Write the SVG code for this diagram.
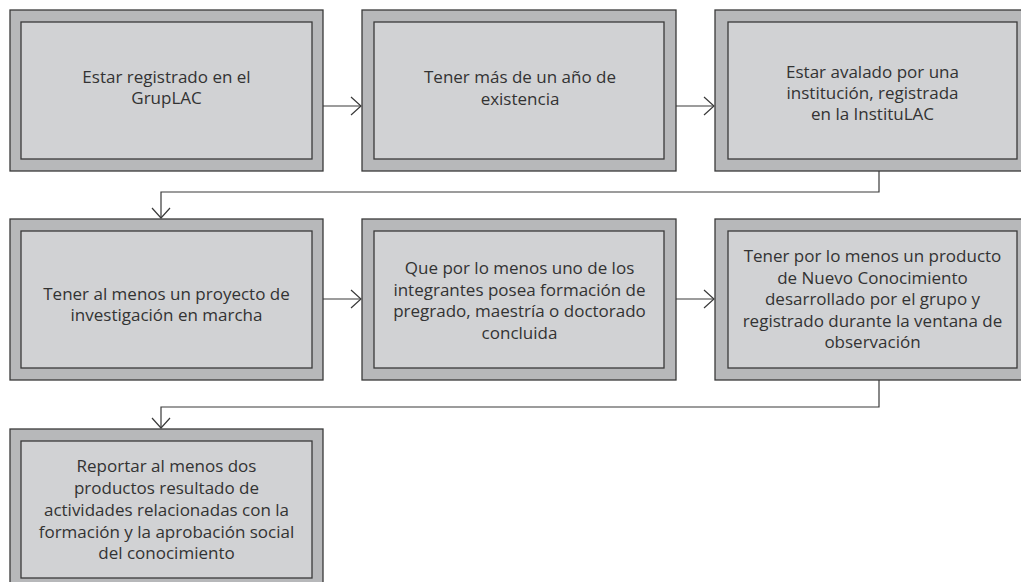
<svg xmlns="http://www.w3.org/2000/svg" width="1021" height="582" viewBox="0 0 1021 582">
<style>
.outer{fill:#b7b8ba;stroke:#3a3a3a;stroke-width:1.3}
.inner{fill:#d1d2d4;stroke:#3a3a3a;stroke-width:1.3}
.t{font-family:"Open Sans","Noto Sans",sans-serif;font-size:17px;fill:#333333;text-anchor:middle}
.c{fill:none;stroke:#3a3a3a;stroke-width:1.2}
</style>
<defs>
<marker id="ah" markerUnits="userSpaceOnUse" markerWidth="14" markerHeight="22" refX="11" refY="10" orient="auto">
<path d="M1,1 L11,10 L1,19" fill="none" stroke="#3a3a3a" stroke-width="1.2"/>
</marker>
</defs>
<rect width="1021" height="582" fill="#ffffff"/>
<g id="connectors">
<path class="c" d="M323,106 H361" marker-end="url(#ah)"/>
<path class="c" d="M676,106 H714" marker-end="url(#ah)"/>
<path class="c" d="M879,171 V192 H161 V218" marker-end="url(#ah)"/>
<path class="c" d="M323,299 H361" marker-end="url(#ah)"/>
<path class="c" d="M676,299 H714" marker-end="url(#ah)"/>
<path class="c" d="M879,380 V407 H161 V428" marker-end="url(#ah)"/>
</g>
<g id="n1">
<rect class="outer" x="10" y="10" width="313" height="161"/>
<rect class="inner" x="21" y="22" width="291" height="137"/>
<text class="t" x="166.5" y="82.5">Estar registrado en el</text>
<text class="t" x="166.5" y="103.5">GrupLAC</text>
</g>
<g id="n2">
<rect class="outer" x="362" y="10" width="314" height="161"/>
<rect class="inner" x="374" y="22" width="290" height="137"/>
<text class="t" x="520" y="83">Tener más de un año de</text>
<text class="t" x="520" y="104.5">existencia</text>
</g>
<g id="n3">
<rect class="outer" x="715" y="10" width="313" height="161"/>
<rect class="inner" x="728" y="22" width="289" height="137"/>
<text class="t" x="872.5" y="78">Estar avalado por una</text>
<text class="t" x="872.5" y="99">institución, registrada</text>
<text class="t" x="872.5" y="120">en la InstituLAC</text>
</g>
<g id="n4">
<rect class="outer" x="10" y="219" width="313" height="161"/>
<rect class="inner" x="21" y="231" width="291" height="137"/>
<text class="t" x="166.5" y="300">Tener al menos un proyecto de</text>
<text class="t" x="166.5" y="321">investigación en marcha</text>
</g>
<g id="n5">
<rect class="outer" x="362" y="219" width="314" height="161"/>
<rect class="inner" x="374" y="231" width="290" height="137"/>
<text class="t" x="519.5" y="274">Que por lo menos uno de los</text>
<text class="t" x="519.5" y="295.5">integrantes posea formación de</text>
<text class="t" x="519.5" y="317">pregrado, maestría o doctorado</text>
<text class="t" x="519.5" y="338.5">concluida</text>
</g>
<g id="n6">
<rect class="outer" x="715" y="219" width="313" height="161"/>
<rect class="inner" x="728" y="231" width="289" height="137"/>
<text class="t" x="872.5" y="262">Tener por lo menos un producto</text>
<text class="t" x="872.5" y="283.5">de Nuevo Conocimiento</text>
<text class="t" x="872.5" y="305">desarrollado por el grupo y</text>
<text class="t" x="872.5" y="326.5">registrado durante la ventana de</text>
<text class="t" x="872.5" y="348">observación</text>
</g>
<g id="n7">
<rect class="outer" x="10" y="429" width="313" height="161"/>
<rect class="inner" x="21" y="441" width="291" height="137"/>
<text class="t" x="166.5" y="472">Reportar al menos dos</text>
<text class="t" x="166.5" y="493.5">productos resultado de</text>
<text class="t" x="166.5" y="515.5">actividades relacionadas con la</text>
<text class="t" x="166.5" y="537.5">formación y la aprobación social</text>
<text class="t" x="166.5" y="559">del conocimiento</text>
</g>
</svg>
